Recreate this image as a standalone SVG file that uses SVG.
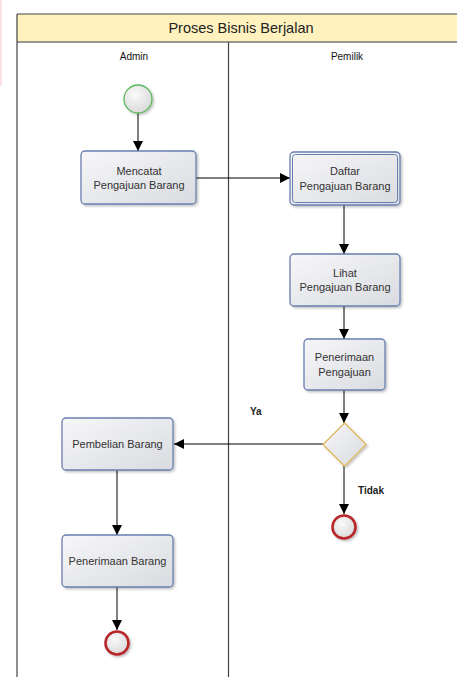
<svg xmlns="http://www.w3.org/2000/svg" width="457" height="677" viewBox="0 0 457 677">
<defs>
<linearGradient id="gBox" x1="0" y1="0" x2="1" y2="1">
<stop offset="0" stop-color="#f7f7f9"/>
<stop offset="1" stop-color="#d9dbe0"/>
</linearGradient>
<radialGradient id="gCirc" cx="0.4" cy="0.35" r="0.7">
<stop offset="0" stop-color="#fafafa"/>
<stop offset="1" stop-color="#d8d8d8"/>
</radialGradient>
<filter id="sh" x="-20%" y="-20%" width="150%" height="150%">
<feDropShadow dx="1.5" dy="1.5" stdDeviation="1.2" flood-color="#000" flood-opacity="0.25"/>
</filter>
<marker id="arr" viewBox="0 0 10 10" refX="10" refY="5" markerWidth="10" markerHeight="10" markerUnits="userSpaceOnUse" orient="auto">
<path d="M0,0 L10,5 L0,10 Z" fill="#000"/>
</marker>
</defs>
<style>
.box{fill:url(#gBox);stroke:#6a7fb0;stroke-width:1.3;filter:url(#sh)}
.t{font-family:"Liberation Sans",Arial,sans-serif;font-size:11px;fill:#333;text-anchor:middle}
.lane{font-family:"Liberation Sans",Arial,sans-serif;font-size:10px;fill:#111;text-anchor:middle}
.lbl{font-family:"Liberation Sans",Arial,sans-serif;font-size:10px;fill:#222;font-weight:bold}
.c{stroke:#000;stroke-width:1;fill:none;marker-end:url(#arr)}
</style>
<rect x="0" y="0" width="457" height="677" fill="#fff"/>
<rect x="0" y="0" width="2" height="86" fill="#fbe0e4"/>
<g id="pool">
<rect x="17" y="14" width="450" height="28" fill="#fff2bf"/>
<line x1="17" y1="42" x2="457" y2="42" stroke="#777" stroke-width="1.6"/>
<line x1="17" y1="14" x2="457" y2="14" stroke="#444" stroke-width="1.2"/>
<line x1="17" y1="14" x2="17" y2="677" stroke="#444" stroke-width="1.2"/>
<line x1="228.5" y1="42" x2="228.5" y2="677" stroke="#444" stroke-width="1.2"/>
<text x="241" y="33" font-family="Liberation Sans,Arial,sans-serif" font-size="14.5" fill="#222" text-anchor="middle">Proses Bisnis Berjalan</text>
<text x="134" y="60" class="lane">Admin</text>
<text x="347" y="60" class="lane">Pemilik</text>
</g>
<g id="connectors">
<line class="c" x1="138" y1="113" x2="138" y2="151"/>
<line class="c" x1="196" y1="178" x2="290" y2="178"/>
<line class="c" x1="344" y1="205" x2="344" y2="254"/>
<line class="c" x1="344" y1="306" x2="344" y2="339"/>
<line class="c" x1="344" y1="390" x2="344" y2="423"/>
<line class="c" x1="323" y1="444" x2="174" y2="444"/>
<line class="c" x1="344" y1="466" x2="344" y2="514"/>
<line class="c" x1="117" y1="470" x2="117" y2="535"/>
<line class="c" x1="117" y1="587" x2="117" y2="630"/>
<text x="250" y="415" class="lbl">Ya</text>
<text x="358" y="494" class="lbl">Tidak</text>
</g>
<g id="start">
<circle cx="138" cy="99" r="14" fill="url(#gCirc)" stroke="#5cb85c" stroke-width="1.3" filter="url(#sh)"/>
</g>
<g id="mencatat">
<rect class="box" x="81" y="151" width="115" height="53" rx="4"/>
<text class="t" x="139" y="175">Mencatat</text>
<text class="t" x="139" y="189">Pengajuan Barang</text>
</g>
<g id="daftar">
<rect class="box" x="290" y="152" width="110" height="53" rx="4"/>
<rect x="292.5" y="154.5" width="105" height="48" rx="3" fill="none" stroke="#6a7fb0" stroke-width="1"/>
<text class="t" x="345" y="175">Daftar</text>
<text class="t" x="345" y="190">Pengajuan Barang</text>
</g>
<g id="lihat">
<rect class="box" x="290" y="254" width="110" height="52" rx="4"/>
<text class="t" x="345" y="277">Lihat</text>
<text class="t" x="345" y="291">Pengajuan Barang</text>
</g>
<g id="penerimaan-pengajuan">
<rect class="box" x="304" y="339" width="81" height="51" rx="4"/>
<text class="t" x="344.5" y="361">Penerimaan</text>
<text class="t" x="344.5" y="376">Pengajuan</text>
</g>
<g id="decision">
<path d="M344.5,423 L366,444.5 L344.5,466 L323,444.5 Z" fill="url(#gBox)" stroke="#e0b860" stroke-width="1.3" filter="url(#sh)"/>
</g>
<g id="end1">
<circle cx="344" cy="527" r="11.5" fill="url(#gCirc)" stroke="#b8282c" stroke-width="2.6" filter="url(#sh)"/>
</g>
<g id="pembelian">
<rect class="box" x="62" y="418" width="111" height="52" rx="4"/>
<text class="t" x="117.5" y="448">Pembelian Barang</text>
</g>
<g id="penerimaan-barang">
<rect class="box" x="62" y="535" width="111" height="52" rx="4"/>
<text class="t" x="117.5" y="565">Penerimaan Barang</text>
</g>
<g id="end2">
<circle cx="117" cy="643" r="11.5" fill="url(#gCirc)" stroke="#b8282c" stroke-width="2.6" filter="url(#sh)"/>
</g>
</svg>
